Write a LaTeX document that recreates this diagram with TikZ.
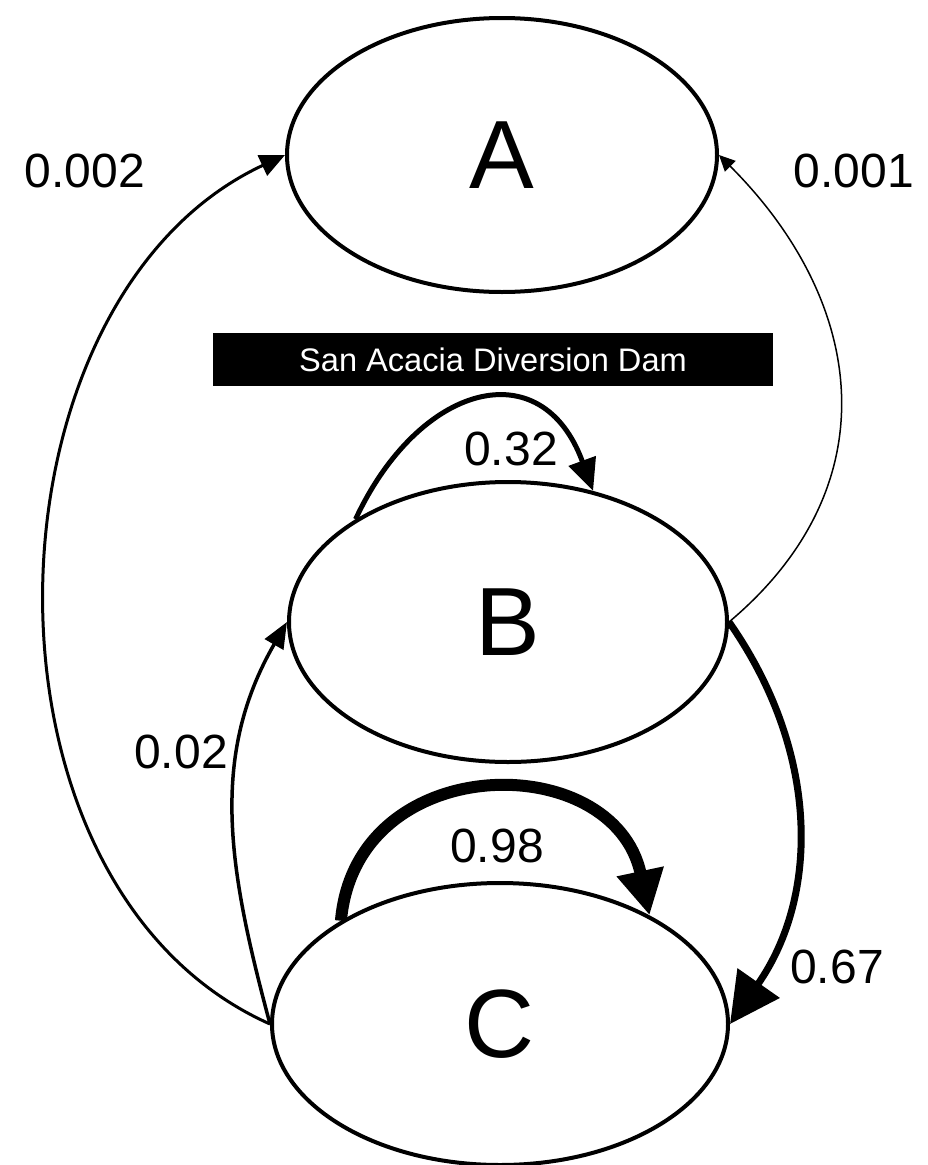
\documentclass[tikz,border=0pt]{standalone}
\usepackage{fontspec}
\setmainfont{Liberation Sans}
\usetikzlibrary{shapes.geometric,arrows.meta}

\begin{document}
\begin{tikzpicture}[x=1pt,y=1pt,
  state/.style={draw, ellipse, line width=4pt, inner sep=0pt, font=\fontsize{97}{97}\selectfont},
  lbl/.style={inner sep=0pt, font=\fontsize{48}{48}\selectfont},
  tip/.style 2 args={-{Triangle[length=#1pt,width=#2pt]}}]
\useasboundingbox (0,0) rectangle (928,-1165);
% states
\node[state, minimum width=430pt, minimum height=274pt] (A) at (502,-155) {A};
\node[state, minimum width=438pt, minimum height=280pt] (B) at (508,-622) {B};
\node[state, minimum width=456pt, minimum height=282pt] (C) at (500,-1024) {C};
\node[fill=black, text=white, minimum width=560pt, minimum height=53pt, inner sep=0pt,
  font=\fontsize{32.6}{33}\selectfont] (dam) at (493,-359.5) {San Acacia Diversion Dam};
% transitions
\draw[line width=3pt, tip={25}{22}] (C.west) to[out=156, in=205] (A.west);
\draw[line width=1.5pt, tip={16}{15}] (B.east) to[out=40, in=-45, looseness=1.15] (A.east);
\draw[line width=3.5pt, tip={26}{21}] (C.west) to[out=105, in=240] (B.west);
\draw[line width=7pt, tip={50}{50}] (B.east) to[out=-55, in=55] (C.east);
\draw[line width=5pt, tip={32}{28}] (B.146) .. controls +(65:150) and +(110:150) .. (B.57);
\draw[line width=12pt, tip={45}{45}] (C.147) .. controls +(85:172) and +(102:172) .. (C.36);
% probabilities
\node[lbl] (pCA) at (85,-171) {0.002};
\node[lbl] (pBA) at (854,-171) {0.001};
\node[lbl] (pBB) at (511,-449) {0.32};
\node[lbl] (pCB) at (181,-752) {0.02};
\node[lbl] (pCC) at (497,-846) {0.98};
\node[lbl] (pBC) at (837,-967) {0.67};
\end{tikzpicture}
\end{document}
